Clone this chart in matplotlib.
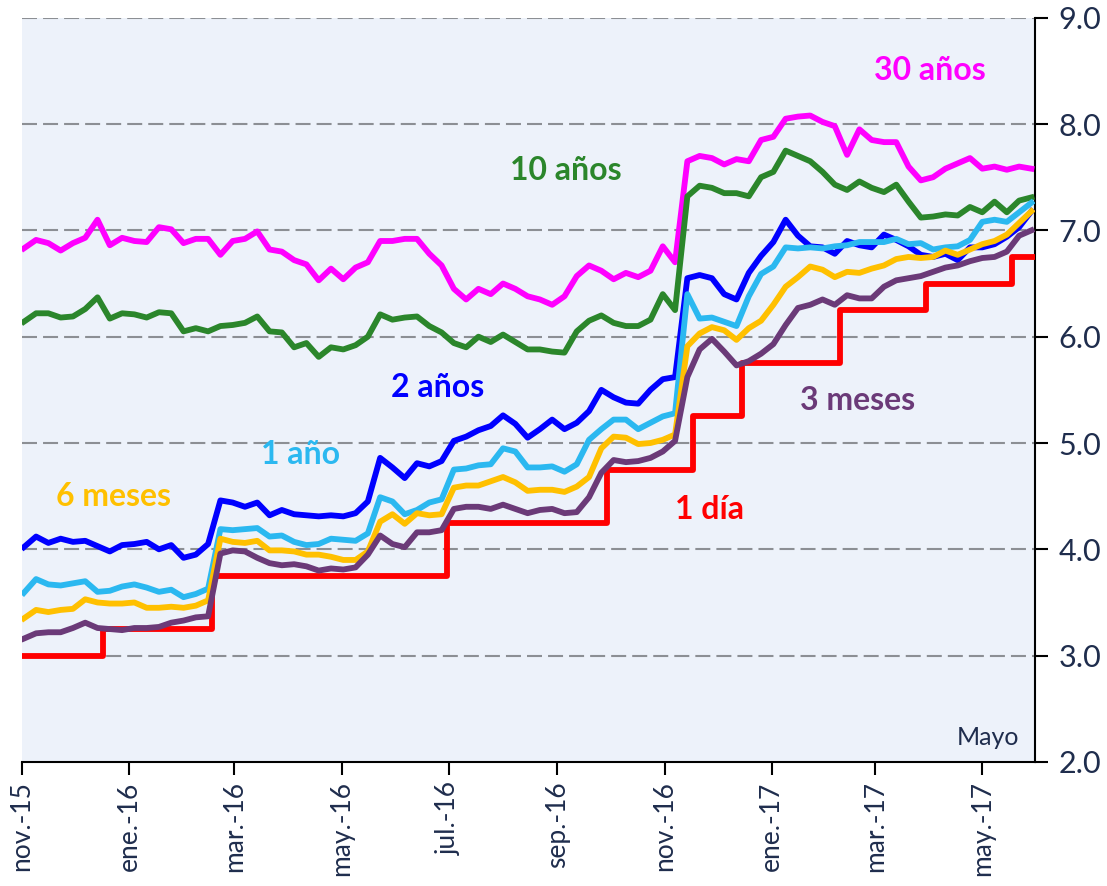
import pandas as pd
import matplotlib
matplotlib.use("Agg")
import matplotlib.pyplot as plt

plt.rcParams['font.family'] = ['Lato', 'DejaVu Sans']

# weekly observations, Monday dates
fechas = pd.date_range('2015-11-02', periods=83, freq='7D')

y30 = [6.83, 6.91, 6.88, 6.81, 6.88, 6.93, 7.10, 6.86, 6.93, 6.90,
       6.89, 7.03, 7.01, 6.88, 6.92, 6.92, 6.77, 6.90, 6.92, 6.99,
       6.82, 6.80, 6.72, 6.68, 6.53, 6.64, 6.54, 6.65, 6.70, 6.90,
       6.90, 6.92, 6.92, 6.78, 6.67, 6.45, 6.35, 6.45, 6.40, 6.50,
       6.45, 6.38, 6.35, 6.30, 6.38, 6.57, 6.67, 6.62, 6.54, 6.60,
       6.56, 6.62, 6.85, 6.70, 7.65, 7.70, 7.68, 7.62, 7.67, 7.65,
       7.85, 7.88, 8.05, 8.07, 8.08, 8.02, 7.98, 7.71, 7.95, 7.85,
       7.83, 7.83, 7.60, 7.47, 7.50, 7.58, 7.63, 7.68, 7.58, 7.60,
       7.57, 7.60, 7.58]

y10 = [6.14, 6.22, 6.22, 6.18, 6.19, 6.26, 6.37, 6.17, 6.22, 6.21,
       6.18, 6.23, 6.22, 6.05, 6.08, 6.05, 6.10, 6.11, 6.13, 6.19,
       6.05, 6.04, 5.90, 5.94, 5.81, 5.90, 5.88, 5.92, 6.00, 6.21,
       6.16, 6.18, 6.19, 6.10, 6.04, 5.94, 5.90, 6.00, 5.95, 6.02,
       5.95, 5.88, 5.88, 5.86, 5.85, 6.05, 6.15, 6.20, 6.13, 6.10,
       6.10, 6.16, 6.40, 6.25, 7.32, 7.42, 7.40, 7.35, 7.35, 7.32,
       7.50, 7.55, 7.75, 7.70, 7.65, 7.55, 7.43, 7.38, 7.46, 7.40,
       7.36, 7.43, 7.27, 7.12, 7.13, 7.15, 7.14, 7.22, 7.17, 7.27,
       7.17, 7.28, 7.31]

y2 = [4.02, 4.12, 4.06, 4.10, 4.07, 4.08, 4.03, 3.98, 4.04, 4.05,
      4.07, 4.00, 4.04, 3.92, 3.95, 4.05, 4.46, 4.44, 4.40, 4.44,
      4.32, 4.37, 4.33, 4.32, 4.31, 4.32, 4.31, 4.34, 4.45, 4.86,
      4.77, 4.67, 4.81, 4.78, 4.83, 5.02, 5.06, 5.12, 5.16, 5.26,
      5.18, 5.05, 5.13, 5.22, 5.13, 5.19, 5.30, 5.50, 5.43, 5.38,
      5.37, 5.50, 5.60, 5.62, 6.55, 6.58, 6.55, 6.40, 6.35, 6.60,
      6.76, 6.89, 7.10, 6.95, 6.85, 6.84, 6.78, 6.90, 6.86, 6.84,
      6.96, 6.91, 6.85, 6.77, 6.75, 6.78, 6.72, 6.84, 6.84, 6.87,
      6.94, 7.03, 7.18]

y1 = [3.59, 3.72, 3.67, 3.66, 3.68, 3.70, 3.60, 3.61, 3.65, 3.67,
      3.64, 3.60, 3.62, 3.55, 3.58, 3.63, 4.19, 4.18, 4.19, 4.20,
      4.12, 4.13, 4.07, 4.04, 4.05, 4.10, 4.09, 4.08, 4.15, 4.49,
      4.45, 4.33, 4.37, 4.44, 4.47, 4.75, 4.76, 4.79, 4.80, 4.95,
      4.92, 4.77, 4.77, 4.78, 4.73, 4.80, 5.03, 5.13, 5.22, 5.22,
      5.13, 5.19, 5.25, 5.28, 6.40, 6.17, 6.18, 6.14, 6.10, 6.38,
      6.59, 6.66, 6.84, 6.83, 6.84, 6.83, 6.85, 6.86, 6.89, 6.89,
      6.89, 6.92, 6.87, 6.88, 6.82, 6.84, 6.85, 6.91, 7.08, 7.10,
      7.08, 7.17, 7.26]

y6m = [3.35, 3.43, 3.41, 3.43, 3.44, 3.53, 3.50, 3.49, 3.49, 3.50,
       3.45, 3.45, 3.46, 3.45, 3.47, 3.52, 4.10, 4.07, 4.06, 4.08,
       3.99, 3.99, 3.98, 3.95, 3.95, 3.93, 3.90, 3.90, 3.98, 4.26,
       4.33, 4.24, 4.34, 4.32, 4.33, 4.58, 4.60, 4.60, 4.64, 4.68,
       4.63, 4.55, 4.56, 4.56, 4.54, 4.59, 4.68, 4.95, 5.06, 5.05,
       4.99, 5.00, 5.03, 5.08, 5.91, 6.03, 6.09, 6.06, 5.97, 6.08,
       6.15, 6.30, 6.47, 6.56, 6.66, 6.63, 6.56, 6.61, 6.60, 6.64,
       6.67, 6.73, 6.75, 6.74, 6.75, 6.81, 6.77, 6.82, 6.87, 6.90,
       6.96, 7.07, 7.18]

y3m = [3.16, 3.21, 3.22, 3.22, 3.26, 3.31, 3.26, 3.25, 3.24, 3.26,
       3.26, 3.27, 3.31, 3.33, 3.36, 3.37, 3.96, 3.99, 3.98, 3.92,
       3.87, 3.85, 3.86, 3.84, 3.80, 3.82, 3.81, 3.83, 3.95, 4.13,
       4.05, 4.02, 4.16, 4.16, 4.18, 4.38, 4.40, 4.40, 4.38, 4.42,
       4.38, 4.34, 4.37, 4.38, 4.34, 4.35, 4.49, 4.72, 4.84, 4.82,
       4.83, 4.86, 4.92, 5.02, 5.62, 5.88, 5.98, 5.86, 5.73, 5.77,
       5.84, 5.93, 6.11, 6.27, 6.30, 6.35, 6.30, 6.39, 6.36, 6.36,
       6.47, 6.53, 6.55, 6.57, 6.61, 6.65, 6.67, 6.71, 6.74, 6.75,
       6.80, 6.95, 7.00]

# tasa objetivo (1 dia)
fechas_1d = pd.to_datetime(['2015-11-01', '2015-12-17', '2016-02-17', '2016-06-30',
                            '2016-09-29', '2016-11-17', '2016-12-15', '2017-02-09',
                            '2017-03-30', '2017-05-18', '2017-05-31'])
tasa_1d = [3.0, 3.25, 3.75, 4.25, 4.75, 5.25, 5.75, 6.25, 6.5, 6.75, 6.75]

tick_fechas = pd.to_datetime(['2015-11-01', '2016-01-01', '2016-03-01', '2016-05-01',
                              '2016-07-01', '2016-09-01', '2016-11-01', '2017-01-01',
                              '2017-03-01', '2017-05-01'])
tick_labels = ['nov.-15', 'ene.-16', 'mar.-16', 'may.-16', 'jul.-16',
               'sep.-16', 'nov.-16', 'ene.-17', 'mar.-17', 'may.-17']

txt = '#1f2d4d'
fig = plt.figure(figsize=(11.07, 8.86), dpi=100)
ax = fig.add_axes([0.0199, 0.140, 0.915, 0.840])
ax.set_facecolor('#edf2fa')

lw = 4.2
ax.plot(fechas_1d, tasa_1d, color='#ff0000', lw=lw, drawstyle='steps-post', zorder=3)
ax.plot(fechas, y30, color='#ff00ff', lw=lw, zorder=3)
ax.plot(fechas, y10, color='#2b862b', lw=lw, zorder=3)
ax.plot(fechas, y2, color='#0000ff', lw=lw, zorder=3)
ax.plot(fechas, y1, color='#2bb8f0', lw=lw, zorder=3)
ax.plot(fechas, y6m, color='#ffc000', lw=lw, zorder=3)
ax.plot(fechas, y3m, color='#6b3a78', lw=lw, zorder=3)

for v in range(3, 10):
    ax.axhline(v, color='#8c8f94', lw=1.5, ls=(0, (7.2, 2.9)), zorder=1)

ax.set_ylim(2, 9)
ax.set_xlim(pd.Timestamp('2015-11-01'), pd.Timestamp('2017-05-31'))

ax.yaxis.tick_right()
ax.set_yticks(range(2, 10))
ax.set_yticklabels(['%.1f' % v for v in range(2, 10)])
ax.set_xticks(tick_fechas)
ax.set_xticklabels(tick_labels, rotation=90)
ax.tick_params(axis='both', colors='black', labelcolor=txt,
               length=9, width=1.5, direction='out')
ax.tick_params(axis='y', labelsize=22, pad=8)
ax.tick_params(axis='x', labelsize=19, pad=5)

for s in ['left', 'top']:
    ax.spines[s].set_visible(False)
for s in ['right', 'bottom']:
    ax.spines[s].set_linewidth(1.5)

lab = dict(fontsize=23, fontweight='bold', ha='center', va='center')
ax.text(0.896, 0.929, '30 años', color='#ff00ff', transform=ax.transAxes, **lab)
ax.text(0.537, 0.795, '10 años', color='#2b862b', transform=ax.transAxes, **lab)
ax.text(0.410, 0.503, '2 años', color='#0000ff', transform=ax.transAxes, **lab)
ax.text(0.275, 0.413, '1 año', color='#2bb8f0', transform=ax.transAxes, **lab)
ax.text(0.090, 0.357, '6 meses', color='#ffc000', transform=ax.transAxes, **lab)
ax.text(0.679, 0.339, '1 día', color='#ff0000', transform=ax.transAxes, **lab)
ax.text(0.825, 0.486, '3 meses', color='#6b3a78', transform=ax.transAxes, **lab)
ax.text(0.985, 0.017, 'Mayo', color=txt, fontsize=18, ha='right', va='bottom',
        transform=ax.transAxes)

fig.savefig('out.png', dpi=100)
